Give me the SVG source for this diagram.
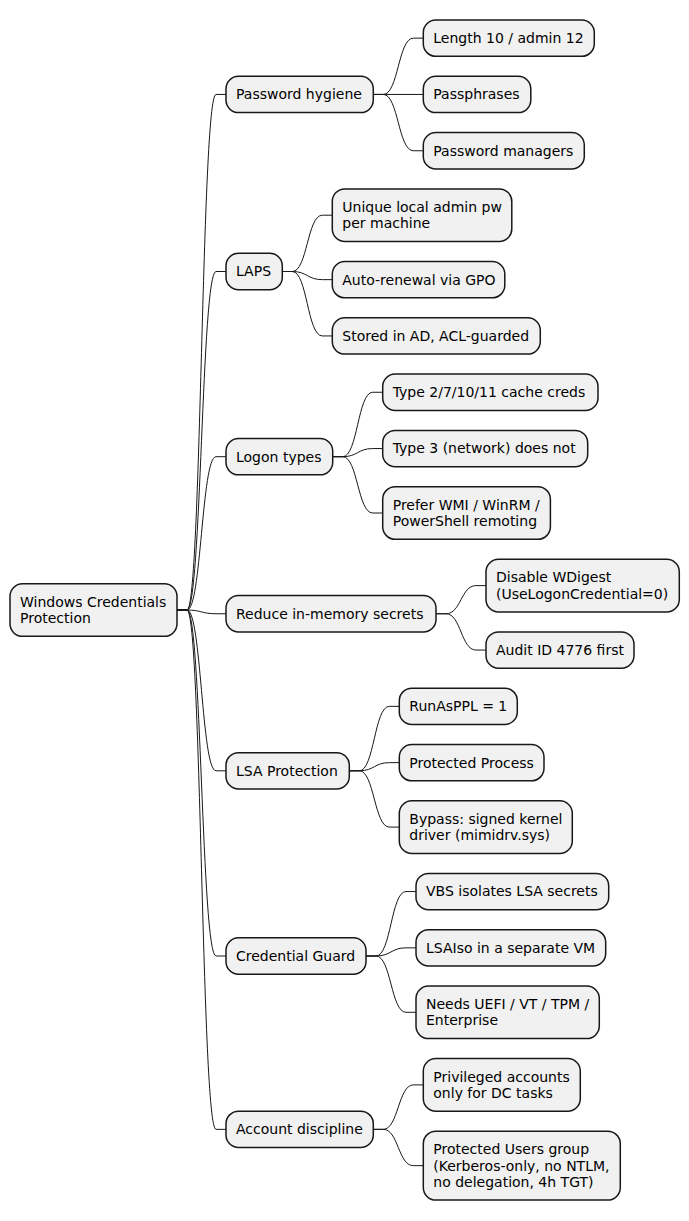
<svg xmlns="http://www.w3.org/2000/svg" width="689" height="1221" viewBox="0 0 689 1221">
<style>
.n rect{fill:#F1F1F1;stroke:#181818;stroke-width:1.5}
.n text{font-family:"DejaVu Sans",sans-serif;font-size:14px;fill:#000}
#connectors path{fill:none;stroke:#181818;stroke-width:1}
</style>
<rect width="689" height="1221" fill="#FFFFFF"/>
<g id="connectors">
<path d="M177 610.05 H187 C201.5 610.05 201.5 94.45 216 94.45 H226"/>
<path d="M177 610.05 H187 C201.5 610.05 201.5 271.5 216 271.5 H226"/>
<path d="M177 610.05 H187 C201.5 610.05 201.5 456.7 216 456.7 H226"/>
<path d="M177 610.05 H187 C201.5 610.05 201.5 613.75 216 613.75 H226"/>
<path d="M177 610.05 H187 C201.5 610.05 201.5 770.8 216 770.8 H226"/>
<path d="M177 610.05 H187 C201.5 610.05 201.5 956 216 956 H226"/>
<path d="M177 610.05 H187 C201.5 610.05 201.5 1129.35 216 1129.35 H226"/>
<path d="M373.3 94.45 H383.3 C398.3 94.45 398.3 38.15 413.3 38.15 H423.3"/>
<path d="M373.3 94.45 H423.3"/>
<path d="M373.3 94.45 H383.3 C398.3 94.45 398.3 150.75 413.3 150.75 H423.3"/>
<path d="M282.3 271.5 H292.3 C307.3 271.5 307.3 215.2 322.3 215.2 H332.3"/>
<path d="M282.3 271.5 H292.3 C307.3 271.5 307.3 279.65 322.3 279.65 H332.3"/>
<path d="M282.3 271.5 H292.3 C307.3 271.5 307.3 335.95 322.3 335.95 H332.3"/>
<path d="M332.7 456.7 H342.7 C357.7 456.7 357.7 392.25 372.7 392.25 H382.7"/>
<path d="M332.7 456.7 H342.7 C357.7 456.7 357.7 448.55 372.7 448.55 H382.7"/>
<path d="M332.7 456.7 H342.7 C357.7 456.7 357.7 513 372.7 513 H382.7"/>
<path d="M436 613.75 H446 C461 613.75 461 585.6 476 585.6 H486"/>
<path d="M436 613.75 H446 C461 613.75 461 650.05 476 650.05 H486"/>
<path d="M349.3 770.8 H359.3 C374.3 770.8 374.3 706.35 389.3 706.35 H399.3"/>
<path d="M349.3 770.8 H359.3 C374.3 770.8 374.3 762.65 389.3 762.65 H399.3"/>
<path d="M349.3 770.8 H359.3 C374.3 770.8 374.3 827.1 389.3 827.1 H399.3"/>
<path d="M366 956 H376 C391 956 391 891.55 406 891.55 H416"/>
<path d="M366 956 H376 C391 956 391 947.85 406 947.85 H416"/>
<path d="M366 956 H376 C391 956 391 1012.3 406 1012.3 H416"/>
<path d="M373.3 1129.35 H383.3 C398.3 1129.35 398.3 1084.9 413.3 1084.9 H423.3"/>
<path d="M373.3 1129.35 H383.3 C398.3 1129.35 398.3 1165.65 413.3 1165.65 H423.3"/>
</g>
<g id="root" class="n"><rect x="10" y="583.75" width="167" height="52.6" rx="12.5"/><text x="20" y="606.75">Windows Credentials</text><text x="20" y="623.05">Protection</text></g>
<g id="password-hygiene" class="n"><rect x="226" y="76.3" width="147.3" height="36.3" rx="12.5"/><text x="236" y="99.3">Password hygiene</text></g>
<g id="laps" class="n"><rect x="226" y="253.35" width="56.3" height="36.3" rx="12.5"/><text x="236" y="276.35">LAPS</text></g>
<g id="logon-types" class="n"><rect x="226" y="438.55" width="106.7" height="36.3" rx="12.5"/><text x="236" y="461.55">Logon types</text></g>
<g id="reduce" class="n"><rect x="226" y="595.6" width="210" height="36.3" rx="12.5"/><text x="236" y="618.6">Reduce in-memory secrets</text></g>
<g id="lsa-protection" class="n"><rect x="226" y="752.65" width="123.3" height="36.3" rx="12.5"/><text x="236" y="775.65">LSA Protection</text></g>
<g id="credential-guard" class="n"><rect x="226" y="937.85" width="140" height="36.3" rx="12.5"/><text x="236" y="960.85">Credential Guard</text></g>
<g id="account-discipline" class="n"><rect x="226" y="1111.2" width="147.3" height="36.3" rx="12.5"/><text x="236" y="1134.2">Account discipline</text></g>
<g id="length" class="n"><rect x="423.3" y="20" width="171" height="36.3" rx="12.5"/><text x="433.3" y="43">Length 10 / admin 12</text></g>
<g id="passphrases" class="n"><rect x="423.3" y="76.3" width="107.5" height="36.3" rx="12.5"/><text x="433.3" y="99.3">Passphrases</text></g>
<g id="password-managers" class="n"><rect x="423.3" y="132.6" width="161" height="36.3" rx="12.5"/><text x="433.3" y="155.6">Password managers</text></g>
<g id="unique-local" class="n"><rect x="332.3" y="188.9" width="179.5" height="52.6" rx="12.5"/><text x="342.3" y="211.9">Unique local admin pw</text><text x="342.3" y="228.2">per machine</text></g>
<g id="auto-renewal" class="n"><rect x="332.3" y="261.5" width="172.5" height="36.3" rx="12.5"/><text x="342.3" y="284.5">Auto-renewal via GPO</text></g>
<g id="stored-in-ad" class="n"><rect x="332.3" y="317.8" width="208" height="36.3" rx="12.5"/><text x="342.3" y="340.8">Stored in AD, ACL-guarded</text></g>
<g id="type-2" class="n"><rect x="382.7" y="374.1" width="215.3" height="36.3" rx="12.5"/><text x="392.7" y="397.1">Type 2/7/10/11 cache creds</text></g>
<g id="type-3" class="n"><rect x="382.7" y="430.4" width="205" height="36.3" rx="12.5"/><text x="392.7" y="453.4">Type 3 (network) does not</text></g>
<g id="prefer-wmi" class="n"><rect x="382.7" y="486.7" width="167.7" height="52.6" rx="12.5"/><text x="392.7" y="509.7">Prefer WMI / WinRM /</text><text x="392.7" y="526">PowerShell remoting</text></g>
<g id="disable-wdigest" class="n"><rect x="486" y="559.3" width="193.3" height="52.6" rx="12.5"/><text x="496" y="582.3">Disable WDigest</text><text x="496" y="598.6">(UseLogonCredential=0)</text></g>
<g id="audit-id" class="n"><rect x="486" y="631.9" width="148" height="36.3" rx="12.5"/><text x="496" y="654.9">Audit ID 4776 first</text></g>
<g id="runasppl" class="n"><rect x="399.3" y="688.2" width="118" height="36.3" rx="12.5"/><text x="409.3" y="711.2">RunAsPPL = 1</text></g>
<g id="protected-process" class="n"><rect x="399.3" y="744.5" width="144.7" height="36.3" rx="12.5"/><text x="409.3" y="767.5">Protected Process</text></g>
<g id="bypass" class="n"><rect x="399.3" y="800.8" width="173" height="52.6" rx="12.5"/><text x="409.3" y="823.8">Bypass: signed kernel</text><text x="409.3" y="840.1">driver (mimidrv.sys)</text></g>
<g id="vbs" class="n"><rect x="416" y="873.4" width="192.7" height="36.3" rx="12.5"/><text x="426" y="896.4">VBS isolates LSA secrets</text></g>
<g id="lsaiso" class="n"><rect x="416" y="929.7" width="189.7" height="36.3" rx="12.5"/><text x="426" y="952.7">LSAIso in a separate VM</text></g>
<g id="needs-uefi" class="n"><rect x="416" y="986" width="183.3" height="52.6" rx="12.5"/><text x="426" y="1009">Needs UEFI / VT / TPM /</text><text x="426" y="1025.3">Enterprise</text></g>
<g id="privileged" class="n"><rect x="423.3" y="1058.6" width="157" height="52.6" rx="12.5"/><text x="433.3" y="1081.6">Privileged accounts</text><text x="433.3" y="1097.9">only for DC tasks</text></g>
<g id="protected-users" class="n"><rect x="423.3" y="1131.2" width="197" height="68.9" rx="12.5"/><text x="433.3" y="1154.2">Protected Users group</text><text x="433.3" y="1170.5">(Kerberos-only, no NTLM,</text><text x="433.3" y="1186.8">no delegation, 4h TGT)</text></g>
</svg>
